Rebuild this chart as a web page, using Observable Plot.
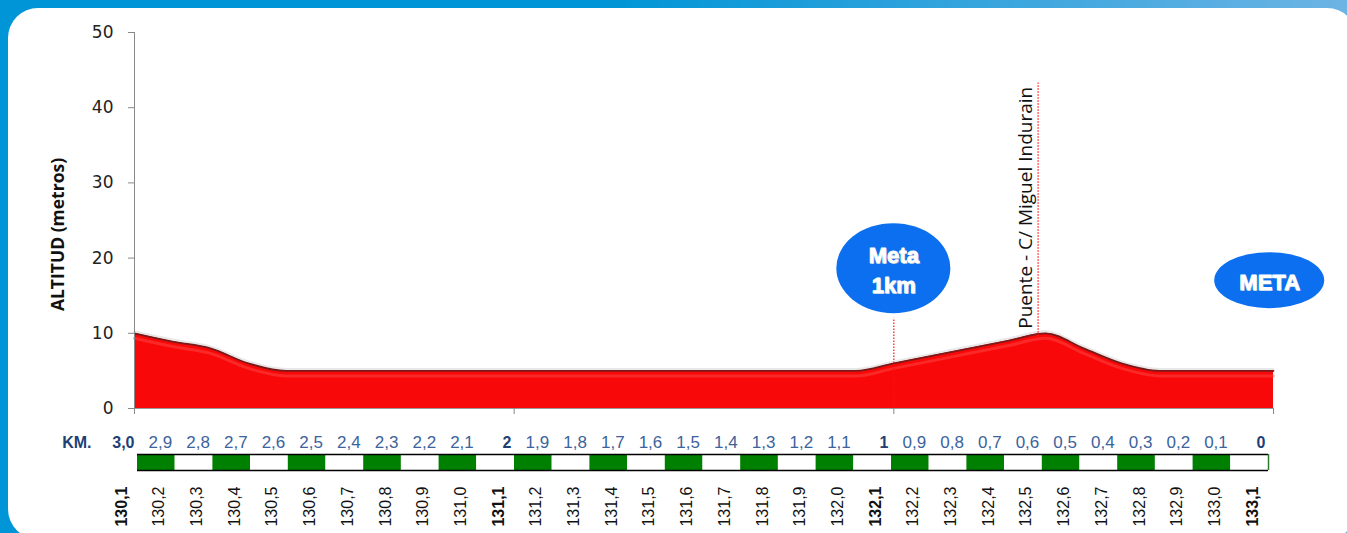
<!DOCTYPE html>
<html><head><meta charset="utf-8">
<script src="https://cdn.jsdelivr.net/npm/d3@7"></script>
<script src="https://cdn.jsdelivr.net/npm/@observablehq/plot@0.6"></script>
<style>
html,body{margin:0;padding:0;width:1347px;height:533px;overflow:hidden;}
body{background:linear-gradient(to right,#0095d6 0%,#0095d6 45%,#6cb4e4 100%);position:relative;}
#panel{position:absolute;left:8px;top:8px;width:1349px;height:531px;background:#fff;border-radius:30px;}
#chart,#table{position:absolute;left:0;}
#chart{top:0;} #table{top:420px;}
svg{overflow:visible;}
</style></head><body>
<div id="panel"></div>
<div id="chart"></div>
<div id="table"></div>
<script>
// Kilometre points (PK) along the route
const pk = [130.1,130.2,130.3,130.4,130.5,130.6,130.7,130.8,130.9,131.0,
            131.1,131.2,131.3,131.4,131.5,131.6,131.7,131.8,131.9,132.0,
            132.1,132.2,132.3,132.4,132.5,132.6,132.7,132.8,132.9,133.0,133.1];
const pkLabels = ["130,1","130,2","130,3","130,4","130,5","130,6","130,7","130,8","130,9","131,0",
                  "131,1","131,2","131,3","131,4","131,5","131,6","131,7","131,8","131,9","132,0",
                  "132,1","132,2","132,3","132,4","132,5","132,6","132,7","132,8","132,9","133,0","133,1"];
// Kilometres to the finish
const kmLabels = ["3,0","2,9","2,8","2,7","2,6","2,5","2,4","2,3","2,2","2,1",
                  "2","1,9","1,8","1,7","1,6","1,5","1,4","1,3","1,2","1,1",
                  "1","0,9","0,8","0,7","0,6","0,5","0,4","0,3","0,2","0,1","0"];
// Altitude (metres)
const altitude = [10,8.9,8,6,5, 5,5,5,5,5, 5,5,5,5,5, 5,5,5,5,5, 6,7,8,9,10, 8,6,5,5,5,5];
const yTicks = [0,10,20,30,40,50];
const majorPk = [130.1,131.1,132.1,133.1];
const boldKm = ["3,0","2","1","0"];
const boldPk = ["130,1","131,1","132,1","133,1"];
// Annotations
const bubbles = [
  {id:"meta1", label:"Meta\n1km", pk:132.1, alt:18.6},
  {id:"meta", label:"META", pk:133.09, alt:17}
];
const metaLine = [{pk:132.1, top:12}];
const puente = [{label:"Puente - C/ Miguel Indurain", pk:132.48, top:43.3, textAlt:10.6}];

const data = pk.map((p,i)=>({pk:p, alt:altitude[i]}));
const bubbleSize = {meta1:[57,45], meta:[55,28]};

const chart = Plot.plot({
  width:1347, height:533,
  marginLeft:134, marginRight:74, marginTop:32, marginBottom:125,
  style:{fontFamily:"'DejaVu Sans', sans-serif", fontSize:"17px", color:"#222", background:"transparent", overflow:"visible"},
  x:{domain:[130.1,133.1]},
  y:{domain:[0,50]},
  marks:[
    Plot.areaY(data,{x:"pk", y:"alt", fill:"#f80808", curve:"monotone-x"}),
    Plot.lineY(data,{x:"pk", y:"alt", stroke:"#ff5050", strokeWidth:3, dy:5, strokeOpacity:0.45, curve:"monotone-x"}),
    Plot.lineY(data,{x:"pk", y:"alt", stroke:"#d8d8d8", strokeWidth:2, dy:-2, strokeOpacity:0.6, curve:"monotone-x"}),
    Plot.lineY(data,{x:"pk", y:"alt", stroke:"#7a1a1a", strokeWidth:1.8, curve:"monotone-x"}),
    Plot.ruleX([130.1],{y1:0, y2:50, stroke:"#888"}),
    Plot.ruleY([0],{stroke:"#999"}),
    Plot.axisY({ticks:yTicks, tickSize:6, tickPadding:15, stroke:"#888", fill:"#222", label:null, fontSize:17}),
    Plot.axisX({ticks:majorPk, tickSize:6, stroke:"#888", tickFormat:()=>"", label:null}),
    Plot.text(["ALTITUD (metros)"],{frameAnchor:"left", textAnchor:"middle", rotate:-90, dx:-76, dy:14, fontWeight:"bold", fontSize:17.5, fontFamily:"'Open Sans', sans-serif", fill:"#111"}),
    Plot.ruleX(metaLine,{x:"pk", y1:0, y2:"top", stroke:"#ff1010", strokeWidth:1.2, strokeDasharray:"1.5,1.5"}),
    Plot.ruleX(puente,{x:"pk", y1:9.6, y2:"top", stroke:"#ff1010", strokeWidth:1.2, strokeDasharray:"1.5,1.5"}),
    Plot.text(puente,{x:"pk", y:"textAlt", text:"label", rotate:-90, textAnchor:"start", lineAnchor:"middle", dx:-12, fontFamily:"'Open Sans', sans-serif", fontSize:19, fill:"#111"}),
    (index, {x, y}) => {
      const g = d3.create("svg:g");
      bubbles.forEach(b => g.append("ellipse")
        .attr("cx", x(b.pk)).attr("cy", y(b.alt))
        .attr("rx", bubbleSize[b.id][0]).attr("ry", bubbleSize[b.id][1])
        .attr("fill", "#0b6ff0"));
      return g.node();
    },
    Plot.text(bubbles,{x:"pk", y:"alt", text:"label", fill:"#9aa9c0", dx:1, dy:1, fontWeight:"bold", fontSize:22, lineHeight:1.36, fontFamily:"'Liberation Sans', Arial, sans-serif"}),
    Plot.text(bubbles,{x:"pk", y:"alt", text:"label", fill:"#fff", stroke:"#fff", strokeWidth:0.9, fontWeight:"bold", fontSize:22, lineHeight:1.36, fontFamily:"'Liberation Sans', Arial, sans-serif"})
  ]
});
document.getElementById("chart").append(chart);

const cells = pk.slice(0,-1).map((p,i)=>({x1:p, x2:pk[i+1], i}));
const kmData = pk.map((p,i)=>({pk:p, label:kmLabels[i]}));
const pkData = pk.map((p,i)=>({pk:p, label:pkLabels[i]}));

const table = Plot.plot({
  width:1347, height:113,
  marginLeft:137, marginRight:79, marginTop:34, marginBottom:63,
  x:{domain:[130.1,133.1], axis:null},
  y:{domain:[0,1], axis:null},
  style:{background:"transparent", overflow:"visible", fontFamily:"'Liberation Sans', Arial, sans-serif"},
  marks:[
    Plot.rect(cells,{x1:"x1", x2:"x2", y1:0, y2:1, fill:d=>d.i%2 ? "#ffffff" : "#008000"}),
    Plot.ruleY([0,1],{x1:130.1, x2:133.1, stroke:"#000", strokeWidth:1.5}),
    Plot.ruleX([133.1],{y1:0, y2:1, stroke:"#2f7a2f", strokeWidth:1.5}),
    Plot.text(["KM."],{x:()=>130.1, y:()=>1, text:d=>d, textAnchor:"end", dx:-46, dy:-12, fontSize:16, fontWeight:"bold", fill:"#1f3f75"}),
    Plot.text(kmData,{filter:d=>!boldKm.includes(d.label), x:"pk", y:()=>1, text:"label", textAnchor:"end", dx:-3, dy:-12, fontSize:17, fill:"#3c639b"}),
    Plot.text(kmData,{filter:d=>boldKm.includes(d.label), x:"pk", y:()=>1, text:"label", textAnchor:"end", dx:-3, dy:-12, fontSize:16, fontWeight:"bold", fill:"#1f3f75"}),
    Plot.text(pkData,{filter:d=>!boldPk.includes(d.label), x:"pk", y:()=>0, text:"label", rotate:-90, textAnchor:"end", lineAnchor:"middle", dx:-16, dy:16, fontSize:16, fill:"#111"}),
    Plot.text(pkData,{filter:d=>boldPk.includes(d.label), x:"pk", y:()=>0, text:"label", rotate:-90, textAnchor:"end", lineAnchor:"middle", dx:-16, dy:16, fontSize:16, fontWeight:"bold", fill:"#111"})
  ]
});
document.getElementById("table").append(table);
</script>
</body></html>
